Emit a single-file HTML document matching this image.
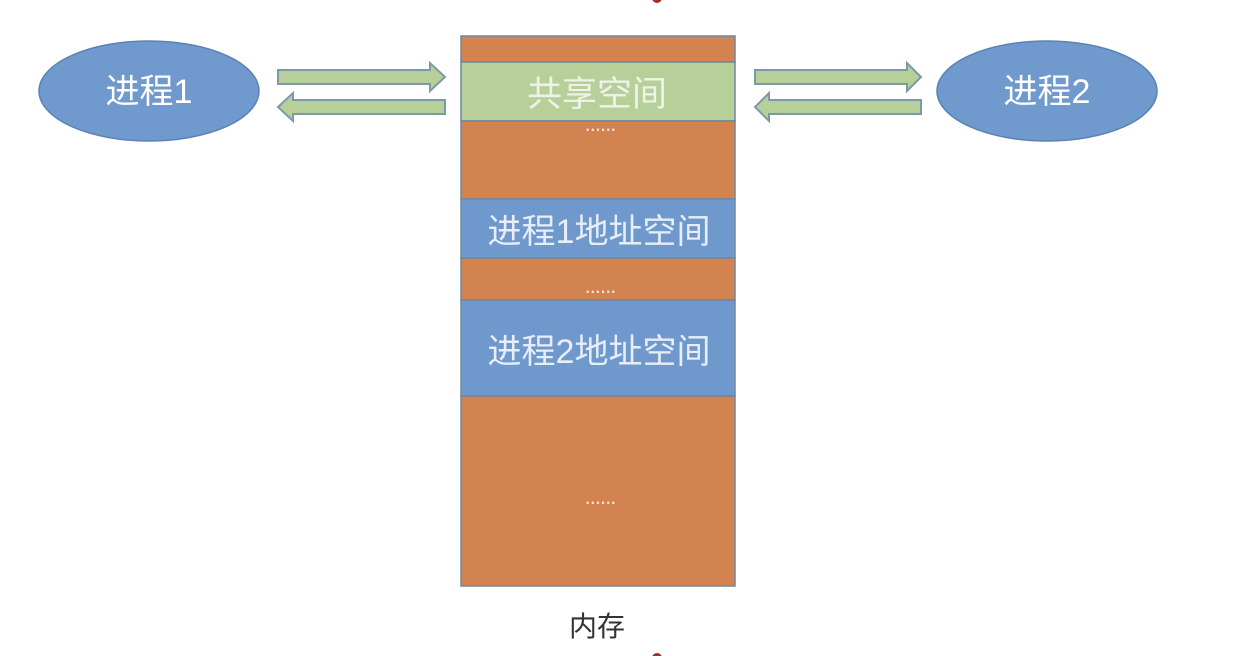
<!DOCTYPE html>
<html><head><meta charset="utf-8"><style>
body{margin:0;background:#fff;}
svg{display:block}
text{font-family:"Liberation Sans","Noto Sans CJK SC",sans-serif;}
</style></head><body>
<svg width="1246" height="656" xmlns="http://www.w3.org/2000/svg">
<ellipse cx="149" cy="91" rx="110" ry="50" fill="#7099cd" stroke="#5b82b5" stroke-width="1.5"/>
<text x="149" y="103" font-size="34" fill="#fff" text-anchor="middle">进程1</text>
<ellipse cx="1047" cy="91" rx="110" ry="50" fill="#7099cd" stroke="#5b82b5" stroke-width="1.5"/>
<text x="1047" y="103" font-size="34" fill="#fff" text-anchor="middle">进程2</text>
<g fill="#b7d09a" stroke="#7a9aa8" stroke-width="2">
<polygon points="278,70 430,70 430,63 445,77 430,91 430,84 278,84"/>
<polygon points="445,100 293,100 293,93 278,107 293,121 293,114 445,114"/>
<polygon points="755,70 907,70 907,63 921,77 907,91 907,84 755,84"/>
<polygon points="921,100 769,100 769,93 755,107 769,121 769,114 921,114"/>
</g>
<g stroke="#6e87a0" stroke-width="1.5">
<rect x="461" y="36" width="274" height="26" fill="#d3834f"/>
<rect x="461" y="62" width="274" height="59" fill="#b7d09a"/>
<rect x="461" y="121" width="274" height="78" fill="#d3834f"/>
<rect x="461" y="199" width="274" height="59" fill="#6f99cd"/>
<rect x="461" y="258" width="274" height="42" fill="#d3834f"/>
<rect x="461" y="300" width="274" height="96" fill="#6f99cd"/>
<rect x="461" y="396" width="274" height="190" fill="#d3834f"/>
</g>
<g fill="#eef2e8" font-size="35" text-anchor="middle">
<text x="597" y="106">共享空间</text>
<text x="599" y="243" fill="#e8eef8" font-size="34">进程1地址空间</text>
<text x="599" y="363" fill="#e8eef8" font-size="34">进程2地址空间</text>
</g>
<g fill="#f3e6da" font-size="22" text-anchor="middle" letter-spacing="-1">
<text x="600" y="131">......</text>
<text x="600" y="293">......</text>
<text x="600" y="504">......</text>
</g>
<text x="597" y="636" font-size="28" fill="#333" text-anchor="middle">内存</text>
<circle cx="657" cy="-2" r="5" fill="#a03030"/>
<circle cx="657" cy="658" r="5" fill="#a03030"/>
</svg>
</body></html>
